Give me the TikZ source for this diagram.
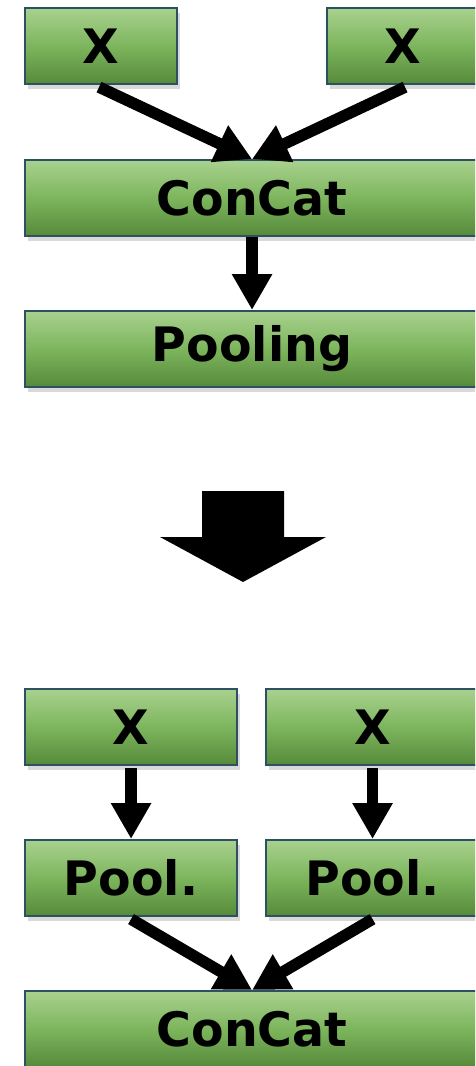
\documentclass[tikz,border=0pt]{standalone}
\usepackage{fontspec}
\setmainfont{DejaVu Sans}
\usetikzlibrary{arrows.meta,shadows}
\definecolor{boxtop}{HTML}{A9D18E}
\definecolor{boxmid}{HTML}{7DB55D}
\definecolor{boxbot}{HTML}{568A3A}
\definecolor{boxline}{HTML}{2B5163}
\tikzset{
  blk/.style={draw=boxline, line width=1.2pt, top color=boxtop, bottom color=boxbot,
    middle color=boxmid, inner sep=0pt, anchor=north west,
    drop shadow={shadow xshift=0.6mm, shadow yshift=-0.9mm, opacity=0.3},
    font=\fontsize{27}{32}\selectfont\bfseries},
  flow/.style={line width=2.3mm, -{Triangle[width=7.6mm,length=7.2mm]}},
}
\begin{document}
\begin{tikzpicture}[x=0.2mm, y=-0.2mm]
  \useasboundingbox (0,0) rectangle (475,1066);
  \begin{scope}
  \clip (0,0) rectangle (475,1066);
  % obere Variante
  \node[blk, minimum width=30.4mm, minimum height=15.2mm] (xa) at (24,7) {X};
  \node[blk, minimum width=30.4mm, minimum height=15.2mm] (xb) at (326,7) {X};
  \node[blk, minimum width=90.8mm, minimum height=15.2mm] (cat) at (24,159) {ConCat};
  \node[blk, minimum width=90.8mm, minimum height=15.2mm] (pool) at (24,310) {Pooling};
  \draw[flow] ([xshift=-0.4mm, yshift=-0.4mm]xa.south) -- (cat.north);
  \draw[flow] ([xshift=0.4mm, yshift=-0.4mm]xb.south) -- (cat.north);
  \draw[flow] (cat.south) -- (pool.north);
  % grosser Pfeil
  \fill (202,491) -- (284,491) -- (284,537) -- (326,537) -- (243,582)
    -- (160,537) -- (202,537) -- cycle;
  % untere Variante
  \node[blk, minimum width=42.4mm, minimum height=15.2mm] (xc) at (24,688) {X};
  \node[blk, minimum width=42.6mm, minimum height=15.2mm] (xd) at (265,688) {X};
  \node[blk, minimum width=42.4mm, minimum height=15.2mm] (pa) at (24,839) {Pool.};
  \node[blk, minimum width=42.6mm, minimum height=15.2mm] (pb) at (265,839) {Pool.};
  \node[blk, minimum width=90.8mm, minimum height=15.2mm] (cat2) at (24,990) {ConCat};
  \draw[flow] ([yshift=-0.4mm]xc.south) -- (pa.north);
  \draw[flow] ([yshift=-0.4mm]xd.south) -- (pb.north);
  \draw[flow] ([yshift=-0.4mm]pa.south) -- (cat2.north);
  \draw[flow] ([yshift=-0.4mm]pb.south) -- (cat2.north);
  \end{scope}
\end{tikzpicture}
\end{document}
